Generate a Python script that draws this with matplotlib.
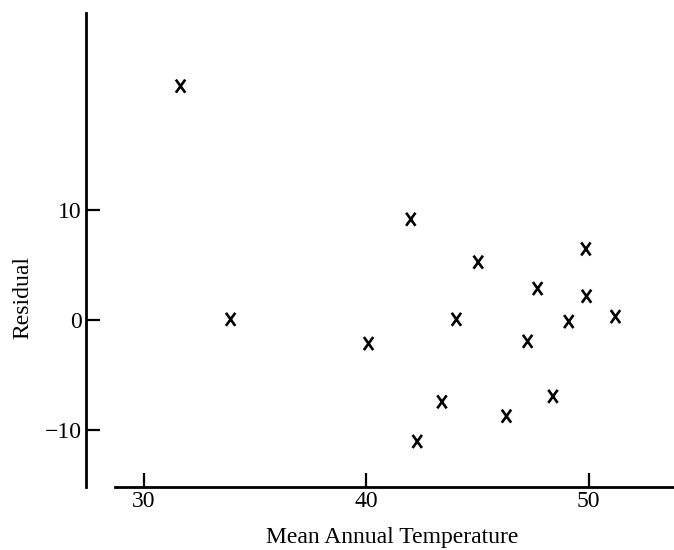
import matplotlib
matplotlib.use("Agg")
import matplotlib.pyplot as plt
from matplotlib.path import Path

# Residuals against mean annual temperature
temperature = [31.65, 33.9, 42.0, 45.03, 49.87, 47.7, 49.9, 51.2, 49.1,
               44.05, 40.1, 47.25, 43.4, 48.39, 46.3, 42.29]
residual = [21.3, 0.1, 9.2, 5.3, 6.5, 2.9, 2.2, 0.35, -0.1,
            0.1, -2.1, -1.9, -7.4, -6.9, -8.7, -11.0]

x_ticks = [30, 40, 50]
y_ticks = [-10, 0, 10]

plt.rcParams['font.family'] = ['Liberation Serif', 'DejaVu Serif']

# a slightly tall, typewriter-like cross used as the point marker
cross = Path([(-0.72, -1.0), (0.72, 1.0), (-0.72, 1.0), (0.72, -1.0)],
             [Path.MOVETO, Path.LINETO, Path.MOVETO, Path.LINETO])

W, H, DPI = 674, 550, 100
fig = plt.figure(figsize=(W / DPI, H / DPI), dpi=DPI)
ax = fig.add_axes([86 / W, (H - 487) / H, (674 - 86) / W, (487 - 13) / H])

ax.scatter(temperature, residual, marker=cross, s=88,
           facecolors='none', edgecolors='black', linewidths=1.9)

ax.set_xlim(27.4, 53.83)
ax.set_ylim(-15.14, 27.95)

for side in ('top', 'right'):
    ax.spines[side].set_visible(False)
ax.spines['left'].set_linewidth(2.0)
ax.spines['bottom'].set_linewidth(2.0)
ax.spines['bottom'].set_bounds(28.7, 53.83)

ax.set_xticks(x_ticks)
ax.set_yticks(y_ticks)
ax.tick_params(axis='both', direction='in', length=10, width=1.6,
               labelsize=17, colors='black')
ax.tick_params(axis='y', pad=3)
ax.tick_params(axis='x', pad=3)

ax.set_xlabel('Mean Annual Temperature', fontsize=17)
ax.set_ylabel('Residual', fontsize=17)
ax.xaxis.set_label_coords(0.52, -0.084)
ax.yaxis.set_label_coords(-0.09, 0.40)

fig.savefig('out.png', dpi=DPI)
